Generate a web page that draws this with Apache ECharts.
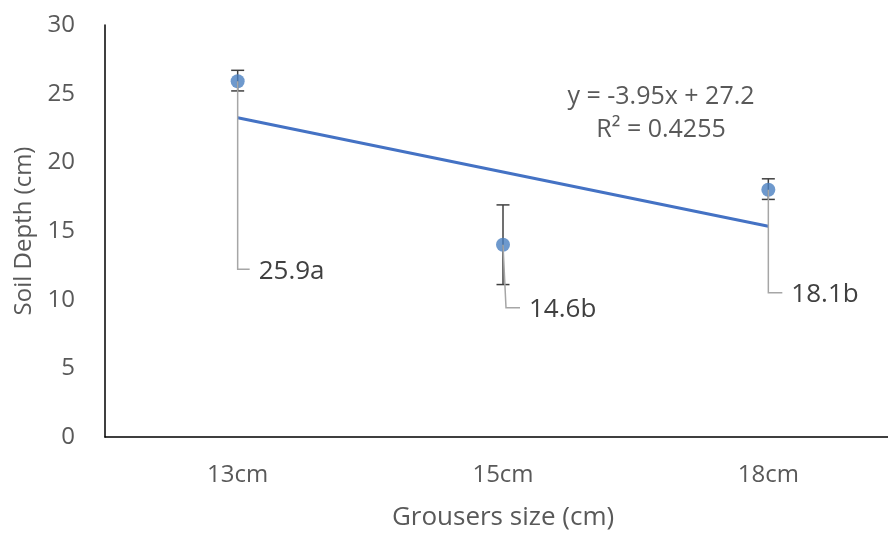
<!DOCTYPE html>
<html><head><meta charset="utf-8">
<script src="https://cdn.jsdelivr.net/npm/echarts@6/dist/echarts.min.js"></script>
<style>html,body{margin:0;padding:0;background:#fff}#c{width:888px;height:534px}</style>
</head><body><div id="c"></div>
<script>
const categories = ['13cm', '15cm', '18cm'];
const means = [25.9, 14.0, 18.0];
const errLow = [25.2, 11.1, 17.3];
const errHigh = [26.7, 16.9, 18.8];
const pointLabels = ['25.9a', '14.6b', '18.1b'];
const trendX = [0, 2];
const trendY = [23.25, 15.35];
const yTicks = [0, 5, 10, 15, 20, 25, 30];
const equationLines = ['y = -3.95x + 27.2', 'R² = 0.4255'];
// leader offsets in pixels (style): [dxBottom, dyBottom, horizontal length]
const leaderStyle = [[0, 188, 12], [3, 63, 14], [0, 103, 14]];

const FONT = 'Open Sans';
const chart = echarts.init(document.getElementById('c'));
chart.setOption({
  animation: false,
  grid: { left: 105, right: -13, top: 25, bottom: 97, containLabel: false, outerBoundsMode: 'none' },
  xAxis: {
    type: 'category', data: categories,
    axisTick: { show: false },
    axisLine: { lineStyle: { color: '#000', width: 1.5 } },
    axisLabel: { color: '#595959', fontSize: 24, fontFamily: FONT, margin: 26 },
    name: 'Grousers size (cm)', nameLocation: 'middle', nameGap: 68,
    nameTextStyle: { color: '#595959', fontSize: 26, fontFamily: FONT }
  },
  yAxis: {
    type: 'value', min: yTicks[0], max: yTicks[yTicks.length - 1], interval: 5,
    splitLine: { show: false },
    axisLine: { show: true, lineStyle: { color: '#000', width: 1.5 } },
    axisLabel: { color: '#595959', fontSize: 24, fontFamily: FONT, margin: 30 },
    name: 'Soil Depth (cm)', nameLocation: 'middle', nameGap: 68, nameRotate: 90,
    nameTextStyle: { color: '#595959', fontSize: 24, fontFamily: FONT }
  },
  graphic: equationLines.map((t, i) => ({
    type: 'text', x: 661, y: 97 + i * 33,
    style: { text: t, align: 'center', verticalAlign: 'middle', fill: '#595959', font: '25px "Open Sans"' }
  })),
  series: [
    {
      type: 'line', data: trendX.map((x, i) => [x, trendY[i]]), symbol: 'none',
      lineStyle: { color: '#4472C4', width: 3 }, z: 2, silent: true
    },
    {
      type: 'custom', z: 3, silent: true,
      data: categories.map((c, i) => [i, errLow[i], errHigh[i]]),
      renderItem: (params, api) => {
        const lo = api.coord([api.value(0), api.value(1)]);
        const hi = api.coord([api.value(0), api.value(2)]);
        const w = 6.5;
        const st = { stroke: '#404040', lineWidth: 1.5 };
        return { type: 'group', children: [
          { type: 'line', shape: { x1: lo[0], y1: lo[1], x2: hi[0], y2: hi[1] }, style: st },
          { type: 'line', shape: { x1: lo[0] - w, y1: lo[1], x2: lo[0] + w, y2: lo[1] }, style: st },
          { type: 'line', shape: { x1: hi[0] - w, y1: hi[1], x2: hi[0] + w, y2: hi[1] }, style: st }
        ]};
      }
    },
    {
      type: 'scatter', data: means, symbolSize: 14, z: 4,
      itemStyle: { color: '#4a7fc1' }
    },
    {
      type: 'custom', z: 5, silent: true,
      data: categories.map((c, i) => [i, means[i]]),
      renderItem: (params, api) => {
        const i = params.dataIndex;
        const p = api.coord([api.value(0), api.value(1)]);
        const s = leaderStyle[i];
        const bx = p[0] + s[0], by = p[1] + s[1];
        const ex = bx + s[2];
        return { type: 'group', children: [
          { type: 'polyline', shape: { points: [[p[0], p[1]], [bx, by], [ex, by]] },
            style: { stroke: '#a6a6a6', lineWidth: 1.5, fill: null } },
          { type: 'text', style: { text: pointLabels[i], x: ex + 9, y: by + 2, align: 'left', verticalAlign: 'middle',
            fill: '#404040', font: '26px "Open Sans"' } }
        ]};
      }
    }
  ]
});
</script></body></html>
